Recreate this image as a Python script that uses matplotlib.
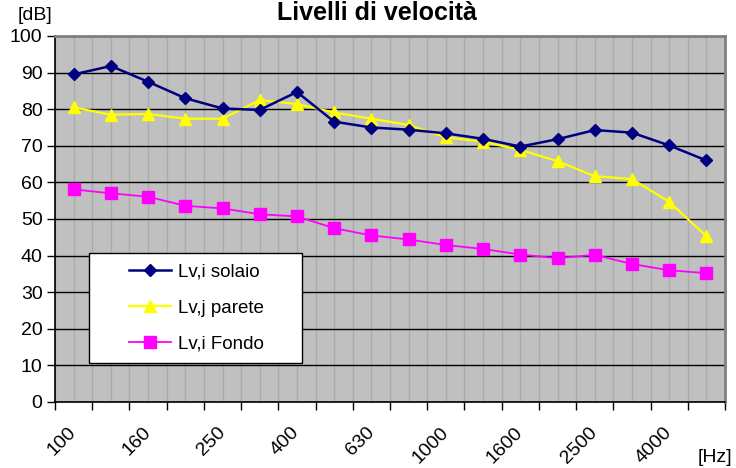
import numpy as np
import matplotlib
matplotlib.use("Agg")
import matplotlib.pyplot as plt
from matplotlib.lines import Line2D
from matplotlib.legend_handler import HandlerLine2D

# ── data ────────────────────────────────────────────────────────
freqs = ["100", "125", "160", "200", "250", "315", "400", "500", "630",
         "800", "1000", "1250", "1600", "2000", "2500", "3150", "4000", "5000"]
solaio = [89.5, 91.8, 87.5, 83.0, 80.2, 79.8, 84.7, 76.6, 75.0,
          74.4, 73.4, 71.9, 69.8, 71.8, 74.3, 73.6, 70.1, 66.0]
parete = [80.5, 78.5, 78.7, 77.4, 77.4, 82.5, 81.4, 79.1, 77.4,
          75.7, 72.3, 71.1, 68.9, 65.8, 61.7, 60.9, 54.7, 45.3]
fondo = [58.1, 57.0, 56.1, 53.6, 52.9, 51.3, 50.7, 47.5, 45.5,
         44.4, 42.9, 41.8, 40.3, 39.3, 40.2, 37.7, 36.0, 35.2]

plt.rcParams["font.family"] = ["Liberation Sans", "DejaVu Sans"]

fig = plt.figure(figsize=(7.36, 4.68), dpi=100)
ax = fig.add_axes([55 / 736, 1 - 402 / 468, 670 / 736, 366 / 468])
ax.set_facecolor("#C0C0C0")

x = np.arange(len(freqs))

ax.plot(x, solaio, color="#000080", lw=1.8, marker="D", ms=6.5,
        label="Lv,i solaio", zorder=4)
ax.plot(x, parete, color="#FFFF00", lw=1.6, marker="^", ms=9,
        label="Lv,j parete", zorder=3)
ax.plot(x, fondo, color="#FF00FF", lw=1.3, marker="s", ms=8.5,
        label="Lv,i Fondo", zorder=3)

# axes / ticks
ax.set_xlim(-0.5, len(freqs) - 0.5)
ax.set_ylim(0, 100)
ax.set_yticks(np.arange(0, 101, 10))
ax.tick_params(axis="y", labelsize=14, length=6, width=1, direction="out", pad=3)

ax.set_xticks(x)
ax.set_xticklabels([f if i % 2 == 0 else "" for i, f in enumerate(freqs)],
                   rotation=45, ha="right", va="center", rotation_mode="anchor",
                   fontsize=14)
ax.tick_params(axis="x", which="major", length=0, pad=20)
ax.set_xticks(np.arange(-0.5, len(freqs)), minor=True)
ax.tick_params(axis="x", which="minor", length=6, width=1, direction="out")

# grid
ax.grid(axis="y", which="major", color="black", lw=1)
ax.grid(axis="x", which="both", color="#ABABAB", lw=1)
ax.set_axisbelow(True)

for side in ["left", "bottom"]:
    ax.spines[side].set_color("black")
    ax.spines[side].set_linewidth(1.2)
for side in ["top", "right"]:
    ax.spines[side].set_color("#808080")
    ax.spines[side].set_linewidth(2)

# legend (wide white box, like the Excel one)
leg = ax.legend(loc="upper left", mode="expand",
                bbox_to_anchor=(34 / 670, 0, 213 / 670, 149 / 366),
                frameon=True, fancybox=False, edgecolor="black",
                framealpha=1, fontsize=13.5, handlelength=3.8,
                labelspacing=1.02, borderpad=0.55, borderaxespad=0,
                handletextpad=0.4,
                handler_map={Line2D: HandlerLine2D(xpad=1.6)})
leg.get_frame().set_linewidth(1)
leg.get_frame().set_facecolor("white")

# texts
fig.text(377 / 736, 1 - 13 / 468, "Livelli di velocità", ha="center",
         va="center", fontsize=18, fontweight="bold")
fig.text(18 / 736, 1 - 15 / 468, "[dB]", ha="left", va="center", fontsize=14)
fig.text(732 / 736, 1 - 457 / 468, "[Hz]", ha="right", va="center", fontsize=14)

fig.savefig("out.png", dpi=100, facecolor="white")
